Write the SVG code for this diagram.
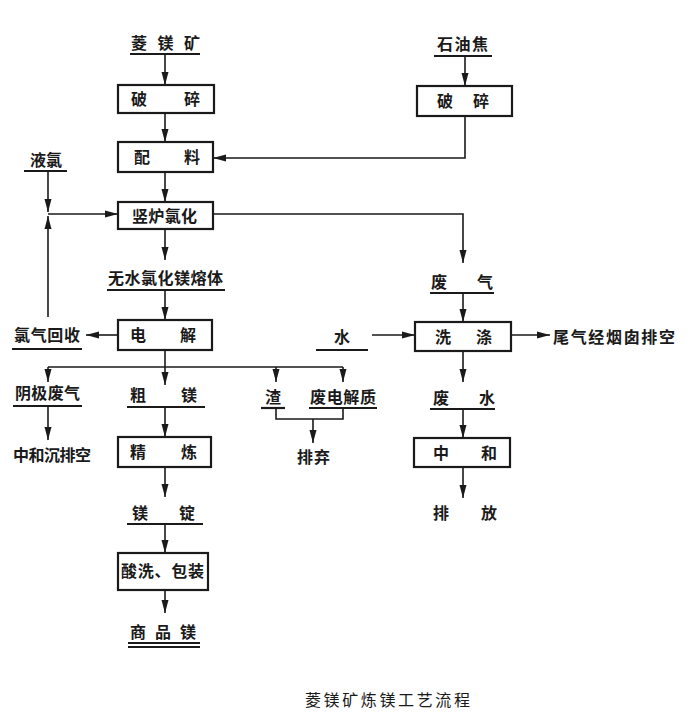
<svg xmlns="http://www.w3.org/2000/svg" width="688" height="718" viewBox="0 0 688 718">
<style>
.t{font-family:"Noto Sans CJK SC","Noto Sans",sans-serif;font-size:16px;font-weight:bold;fill:#1a1a1a}
.cap{font-family:"Noto Sans CJK SC","Noto Sans",sans-serif;font-size:16px;font-weight:normal;fill:#1a1a1a}
.box{fill:none;stroke:#1a1a1a;stroke-width:2.2}
.ul{stroke:#1a1a1a;stroke-width:2.2;fill:none}
.ln{stroke:#1a1a1a;stroke-width:1.6;fill:none}
.ar{stroke:#1a1a1a;stroke-width:1.6;fill:none;marker-end:url(#ah)}
</style>
<defs>
<marker id="ah" markerUnits="userSpaceOnUse" markerWidth="13" markerHeight="8" refX="13" refY="4" orient="auto">
<path d="M0,0.5 L13,4 L0,7.5 z" fill="#1a1a1a"/>
</marker>
</defs>
<rect width="688" height="718" fill="#ffffff"/>

<g id="connectors">
<line class="ar" x1="165" y1="54" x2="165" y2="85"/>
<line class="ar" x1="165" y1="113" x2="165" y2="142"/>
<line class="ar" x1="165" y1="172" x2="165" y2="202"/>
<line class="ar" x1="165" y1="229" x2="165" y2="260"/>
<line class="ar" x1="165" y1="290" x2="165" y2="320"/>
<line class="ar" x1="465" y1="56" x2="465" y2="86"/>
<polyline class="ar" points="465,116 465,158 213,158"/>
<line class="ar" x1="48" y1="171" x2="48" y2="212"/>
<line class="ar" x1="48" y1="317" x2="48" y2="216"/>
<line class="ar" x1="48" y1="214" x2="118" y2="214"/>
<polyline class="ar" points="213,214 463,214 463,263"/>
<line class="ar" x1="118" y1="335" x2="86" y2="335"/>
<line class="ln" x1="165" y1="350" x2="165" y2="367"/>
<line class="ln" x1="48" y1="367" x2="343" y2="367"/>
<line class="ar" x1="48" y1="367" x2="48" y2="382"/>
<line class="ar" x1="165" y1="367" x2="165" y2="385"/>
<line class="ar" x1="276" y1="367" x2="276" y2="382"/>
<line class="ar" x1="343" y1="367" x2="343" y2="382"/>
<polyline class="ln" points="276,408 276,419 343,419 343,408"/>
<line class="ar" x1="313" y1="419" x2="313" y2="443"/>
<line class="ar" x1="48" y1="406" x2="48" y2="440"/>
<line class="ar" x1="165" y1="407" x2="165" y2="437"/>
<line class="ar" x1="165" y1="467" x2="165" y2="497"/>
<line class="ar" x1="165" y1="524" x2="165" y2="553"/>
<line class="ar" x1="165" y1="590" x2="165" y2="613"/>
<line class="ar" x1="463" y1="293" x2="463" y2="322"/>
<line class="ar" x1="372" y1="335" x2="415" y2="335"/>
<line class="ar" x1="511" y1="335" x2="550" y2="335"/>
<line class="ar" x1="463" y1="351" x2="463" y2="382"/>
<line class="ar" x1="463" y1="409" x2="463" y2="438"/>
<line class="ar" x1="463" y1="467" x2="463" y2="498"/>
</g>

<g id="lingkuang">
<text class="t" x="131" y="49" textLength="69" lengthAdjust="spacing">菱镁矿</text>
<line class="ul" x1="130" y1="54" x2="200" y2="54"/>
</g>
<g id="posui1">
<rect class="box" x="118" y="85" width="96" height="28"/>
<text class="t" x="131" y="105" textLength="69" lengthAdjust="spacing">破碎</text>
</g>
<g id="peiliao">
<rect class="box" x="118" y="142" width="95" height="30"/>
<text class="t" x="134" y="163" textLength="66" lengthAdjust="spacing">配料</text>
</g>
<g id="shiyoujiao">
<text class="t" x="437" y="50" textLength="51" lengthAdjust="spacing">石油焦</text>
<line class="ul" x1="434" y1="56" x2="492" y2="56"/>
</g>
<g id="posui2">
<rect class="box" x="417" y="86" width="95" height="30"/>
<text class="t" x="437" y="107" textLength="52" lengthAdjust="spacing">破碎</text>
</g>
<g id="yelv">
<text class="t" x="30" y="166" textLength="32" lengthAdjust="spacing">液氯</text>
<line class="ul" x1="24" y1="171" x2="67" y2="171"/>
</g>
<g id="shuluhuahua">
<rect class="box" x="118" y="202" width="95" height="27"/>
<text class="t" x="132" y="222" textLength="65" lengthAdjust="spacing">竖炉氯化</text>
</g>
<g id="wushui">
<text class="t" x="108" y="284" textLength="115" lengthAdjust="spacing">无水氯化镁熔体</text>
<line class="ul" x1="107" y1="290" x2="225" y2="290"/>
</g>
<g id="feiqi">
<text class="t" x="431" y="288" textLength="62" lengthAdjust="spacing">废气</text>
<line class="ul" x1="430" y1="293" x2="494" y2="293"/>
</g>
<g id="dianjie">
<rect class="box" x="118" y="320" width="94" height="30"/>
<text class="t" x="130" y="341" textLength="66" lengthAdjust="spacing">电解</text>
</g>
<g id="lvqihuishou">
<text class="t" x="14" y="341" textLength="66" lengthAdjust="spacing">氯气回收</text>
<line class="ul" x1="12" y1="349" x2="82" y2="349"/>
</g>
<g id="shui">
<text class="t" x="334" y="343" textLength="15" lengthAdjust="spacing">水</text>
<line class="ul" x1="316" y1="350" x2="368" y2="350"/>
</g>
<g id="xidi">
<rect class="box" x="415" y="322" width="96" height="29"/>
<text class="t" x="435" y="343" textLength="57" lengthAdjust="spacing">洗涤</text>
</g>
<g id="weiqi">
<text class="t" x="553" y="343" textLength="122" lengthAdjust="spacing">尾气经烟囱排空</text>
</g>
<g id="yinjifeiqi">
<text class="t" x="15" y="399" textLength="65" lengthAdjust="spacing">阴极废气</text>
<line class="ul" x1="13" y1="406" x2="82" y2="406"/>
</g>
<g id="cumei">
<text class="t" x="130" y="401" textLength="67" lengthAdjust="spacing">粗镁</text>
<line class="ul" x1="127" y1="407" x2="205" y2="407"/>
</g>
<g id="zha">
<text class="t" x="265" y="403" textLength="17" lengthAdjust="spacing">渣</text>
<line class="ul" x1="261" y1="408" x2="285" y2="408"/>
</g>
<g id="feidianjiezhi">
<text class="t" x="310" y="403" textLength="66" lengthAdjust="spacing">废电解质</text>
<line class="ul" x1="309" y1="408" x2="377" y2="408"/>
</g>
<g id="feishui">
<text class="t" x="433" y="404" textLength="62" lengthAdjust="spacing">废水</text>
<line class="ul" x1="430" y1="409" x2="495" y2="409"/>
</g>
<g id="paiqi">
<text class="t" x="297" y="463" textLength="33" lengthAdjust="spacing">排弃</text>
</g>
<g id="zhonghechen">
<text class="t" x="13" y="461" textLength="78" lengthAdjust="spacing">中和沉排空</text>
</g>
<g id="jinglian">
<rect class="box" x="118" y="437" width="93" height="30"/>
<text class="t" x="130" y="458" textLength="67" lengthAdjust="spacing">精炼</text>
</g>
<g id="zhonghe">
<rect class="box" x="414" y="438" width="96" height="29"/>
<text class="t" x="433" y="459" textLength="64" lengthAdjust="spacing">中和</text>
</g>
<g id="meiding">
<text class="t" x="132" y="519" textLength="63" lengthAdjust="spacing">镁锭</text>
<line class="ul" x1="127" y1="524" x2="203" y2="524"/>
</g>
<g id="paifang">
<text class="t" x="433" y="519" textLength="64" lengthAdjust="spacing">排放</text>
</g>
<g id="suanxi">
<rect class="box" x="118" y="553" width="90" height="37"/>
<text class="t" x="121" y="577" textLength="83" lengthAdjust="spacing">酸洗、包装</text>
</g>
<g id="shangpinmei">
<text class="t" x="130" y="638" textLength="66" lengthAdjust="spacing">商品镁</text>
<line class="ul" x1="128" y1="643" x2="200" y2="643"/>
<line class="ul" x1="128" y1="647" x2="200" y2="647"/>
</g>
<g id="caption">
<text class="cap" x="305" y="706" textLength="165" lengthAdjust="spacing">菱镁矿炼镁工艺流程</text>
</g>
</svg>
